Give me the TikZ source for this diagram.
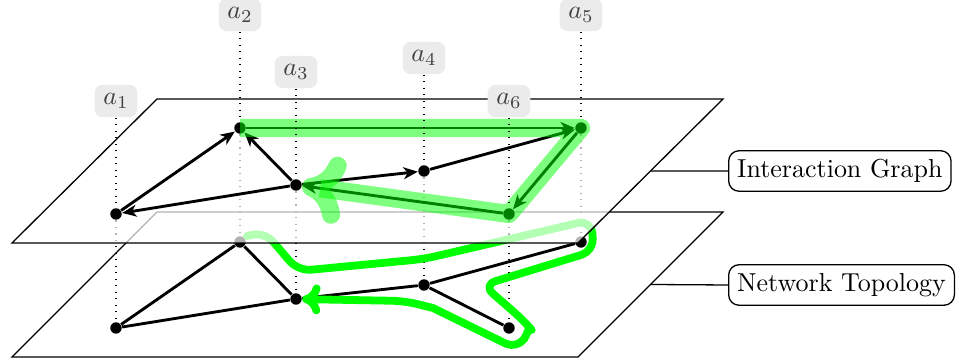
\documentclass[tikz,border=0pt]{standalone}
\usetikzlibrary{arrows.meta,calc}
\pgfdeclarelayer{bottom}
\pgfdeclarelayer{sheet}
\pgfsetlayers{bottom,sheet,main}
\begin{document}
\begin{tikzpicture}[x=0.385pt,y=-0.385pt,
  plane/.style={draw=black,line width=0.5pt},
  vertex/.style={circle,fill=black,inner sep=0pt,minimum size=4.4pt},
  edge/.style={line width=1.1pt},
  dir/.style={edge,-{Stealth[length=5.5pt,width=4.6pt,inset=1.6pt]}},
  agent/.style={rounded corners=3pt,fill=black!8,text=black!75,inner sep=3.3pt},
  guide/.style={dotted,line width=0.5pt},
  route/.style={line width=7pt,green,opacity=0.5,line join=round,
    -{Computer Modern Rightarrow[length=16pt,width=26pt,round]}},
  hop/.style={line width=3pt,green,line cap=round,line join=round,
    -{Computer Modern Rightarrow[length=7pt,width=11.5pt,round]}},
  tag/.style={draw,rounded corners=4pt,inner sep=3.3pt,line width=0.5pt}
]
\useasboundingbox (0,0) rectangle (959,364);

% corners of the two sheets
\coordinate (LBL) at (12,357);  \coordinate (LBR) at (578,357);
\coordinate (LTR) at (723,212); \coordinate (LTL) at (157,212);
\coordinate (UBL) at (12,243);  \coordinate (UBR) at (578,243);
\coordinate (UTR) at (723,99);  \coordinate (UTL) at (157,99);

% upper layer vertices
\node[vertex] (u1) at (116,214) {};
\node[vertex] (u2) at (240,128) {};
\node[vertex] (u3) at (296,185) {};
\node[vertex] (u4) at (424,171) {};
\node[vertex] (u5) at (581,128) {};
\node[vertex] (u6) at (509,214) {};

\begin{pgfonlayer}{bottom}
  % network topology sheet
  \draw[plane] (LBL) -- (LBR) -- (LTR) -- (LTL) -- cycle;
  \node[vertex] (b1) at (116,328) {};
  \node[vertex] (b2) at (240,242) {};
  \node[vertex] (b3) at (296,299) {};
  \node[vertex] (b4) at (424,285) {};
  \node[vertex] (b5) at (581,242) {};
  \node[vertex] (b6) at (509,328) {};
  \foreach \i in {1,...,6} \draw[guide] (u\i) -- (b\i);
  \draw[edge] (b1) -- (b2) -- (b3) -- (b1);
  \draw[edge] (b3) -- (b4) -- (b5);
  \draw[edge] (b4) -- (b6);
  % route through the physical links, wrapping round b5 and b6
  \draw[hop] (247,236) [rounded corners=5pt] -- (265,232) -- (298,271) -- (424,259)
    -- (591,220) -- (594,251) -- (483,285) -- (523.2,320.1) [sharp corners]
    .. controls (527.8,325.4) and (528.3,333.1) .. (524.2,338.8)
    .. controls (520.1,344.5) and (512.6,346.5) .. (506.1,343.8)
    -- (433,308) [rounded corners=5pt] -- (405,301) -- (b3);
\end{pgfonlayer}

\begin{pgfonlayer}{sheet}
  % interaction graph sheet
  \draw[plane,fill=white,fill opacity=0.7] (UBL) -- (UBR) -- (UTR) -- (UTL) -- cycle;
\end{pgfonlayer}

% interaction edges
\draw[dir] (u1) -- (u2);
\draw[dir] (u3) -- (u2);
\draw[dir] (u3) -- (u1);
\draw[dir] (u3) -- (u4);
\draw[dir] (u4) -- (u5);
\draw[dir] (u2) -- (u5);
\draw[dir] (u5) -- (u6);
\draw[dir] (u6) -- (u3);
\draw[route] (u2.center) -- (u5.center) -- (u6.center) -- (u3);

% agent labels
\node[agent] (l1) at (116,101) {$a_1$};
\node[agent] (l2) at (240,15)  {$a_2$};
\node[agent] (l3) at (296,72)  {$a_3$};
\node[agent] (l4) at (424,58)  {$a_4$};
\node[agent] (l5) at (581,15)  {$a_5$};
\node[agent] (l6) at (509,101) {$a_6$};
\foreach \i in {1,...,6} \draw[guide] (l\i) -- (u\i);

% sheet captions
\node[tag,anchor=west] (ig) at (728,171) {Interaction Graph};
\node[tag,anchor=west] (nt) at (728,285) {Network Topology};
\coordinate (um) at ($(UBR)!0.5!(UTR)$);
\coordinate (lm) at ($(LBR)!0.5!(LTR)$);
\draw[line width=0.5pt] (um) -- (ig.west);
\draw[line width=0.5pt] (lm) -- (nt.west);
\end{tikzpicture}
\end{document}
